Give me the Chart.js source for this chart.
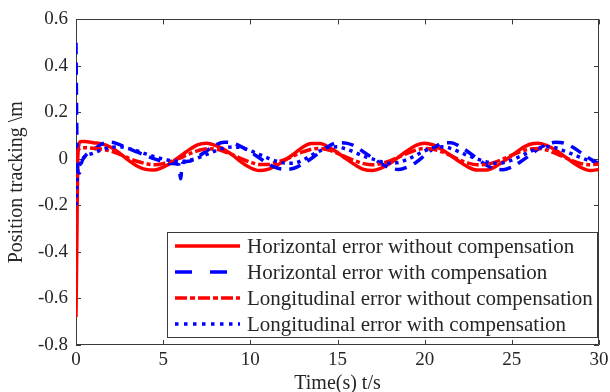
<!DOCTYPE html>
<html>
<head>
<meta charset="utf-8">
<title>Position tracking error</title>
<script src="https://cdn.jsdelivr.net/npm/chart.js@4.4.1/dist/chart.umd.min.js"></script>
<style>
  html, body { margin: 0; padding: 0; background: #fff; }
</style>
</head>
<body>
<canvas id="trackChart" width="610" height="392"></canvas>
<script>
(function() {
    'use strict';

    // Sample times (s); denser at the start transient and around the glitch near 6 s
    var tAxis = [
        0, 0.05, 0.1, 0.2, 0.3, 0.5,
        1, 1.5, 2, 2.5, 3, 3.5, 4, 4.5, 5, 5.5,
        5.9, 6, 6.1,
        6.5, 7, 7.5, 8, 8.5, 9, 9.5, 10, 10.5, 11,
        11.5, 12, 12.5, 13, 13.5, 14, 14.5, 15, 15.5, 16,
        16.5, 17, 17.5, 18, 18.5, 19, 19.5, 20, 20.5, 21,
        21.5, 22, 22.5, 23, 23.5, 24, 24.5, 25, 25.5, 26,
        26.5, 27, 27.5, 28, 28.5, 29, 29.5, 30
    ];

    // Horizontal error without compensation (m)
    var hNoComp = [
        -0.68, -0.35, 0.0, 0.07, 0.075, 0.075,
        0.07, 0.065, 0.05, 0.025, -0.005, -0.03, -0.045, -0.048, -0.035, -0.015,
        0.008, 0.013, 0.018,
        0.04, 0.062, 0.068, 0.058, 0.04, 0.015, -0.015, -0.038, -0.05, -0.045,
        -0.028, -0.005, 0.022, 0.05, 0.066, 0.066, 0.05, 0.028, 0.0, -0.025,
        -0.045, -0.05, -0.04, -0.02, 0.008, 0.035, 0.058, 0.068, 0.06, 0.04,
        0.015, -0.012, -0.035, -0.048, -0.048, -0.035, -0.012, 0.015, 0.042, 0.062,
        0.068, 0.058, 0.038, 0.012, -0.015, -0.038, -0.05, -0.045
    ];

    // Horizontal error with compensation (m)
    var hComp = [
        0.5, 0.1, -0.05, -0.06, -0.02, 0.01,
        0.04, 0.065, 0.072, 0.062, 0.045, 0.03, 0.015, 0.0, -0.012, -0.02,
        -0.025, -0.085, -0.02,
        -0.01, 0.01, 0.035, 0.06, 0.072, 0.068, 0.052, 0.03, 0.005, -0.02,
        -0.038, -0.045, -0.04, -0.022, 0.002, 0.03, 0.055, 0.07, 0.068, 0.055,
        0.03, 0.005, -0.02, -0.038, -0.045, -0.035, -0.015, 0.015, 0.045, 0.068,
        0.07, 0.055, 0.03, 0.002, -0.025, -0.042, -0.046, -0.035, -0.012, 0.015,
        0.042, 0.062, 0.072, 0.068, 0.05, 0.025, 0.0, -0.02
    ];

    // Longitudinal error without compensation (m)
    var lNoComp = [
        0.0, 0.02, 0.035, 0.045, 0.048, 0.048,
        0.046, 0.042, 0.034, 0.02, 0.004, -0.01, -0.02, -0.025, -0.02, -0.008,
        0.002, 0.005, 0.008,
        0.022, 0.036, 0.044, 0.042, 0.032, 0.018, 0.0, -0.014, -0.024, -0.024,
        -0.015, -0.002, 0.014, 0.03, 0.042, 0.045, 0.038, 0.024, 0.008, -0.008,
        -0.02, -0.025, -0.02, -0.008, 0.008, 0.024, 0.038, 0.045, 0.042, 0.03,
        0.014, -0.004, -0.018, -0.025, -0.024, -0.015, 0.0, 0.016, 0.032, 0.042,
        0.045, 0.038, 0.024, 0.008, -0.008, -0.02, -0.025, -0.022
    ];

    // Longitudinal error with compensation (m)
    var lComp = [
        -0.2, -0.12, -0.06, -0.03, -0.01, 0.01,
        0.025, 0.04, 0.05, 0.052, 0.045, 0.035, 0.022, 0.01, 0.0, -0.008,
        -0.01, -0.01, -0.01,
        -0.005, 0.005, 0.02, 0.035, 0.047, 0.052, 0.048, 0.035, 0.02, 0.004,
        -0.01, -0.018, -0.018, -0.005, 0.015, 0.035, 0.05, 0.052, 0.042, 0.028,
        0.012, 0.0, -0.012, -0.018, -0.015, -0.002, 0.016, 0.035, 0.048, 0.052,
        0.045, 0.03, 0.014, 0.0, -0.012, -0.018, -0.016, -0.005, 0.012, 0.03,
        0.045, 0.052, 0.048, 0.035, 0.02, 0.004, -0.008, -0.015
    ];

    var seriesNames = [
        'Horizontal error without compensation',
        'Horizontal error with compensation',
        'Longitudinal error without compensation',
        'Longitudinal error with compensation'
    ];

    var xTicks = [0, 5, 10, 15, 20, 25, 30];
    var yTicks = [-0.8, -0.6, -0.4, -0.2, 0, 0.2, 0.4, 0.6];

    var SERIF = '"Liberation Serif", "Times New Roman", serif';
    var TEXT = '#262626';
    var AXIS = '#3a3a3a';

    function toPoints(values) {
        return tAxis.map(function(t, i) { return { x: t, y: values[i] }; });
    }

    // Dash patterns: plot lines, and the (longer) legend samples
    var styles = [
        { color: '#ff0000', dash: [], legendDash: [] },
        { color: '#0000ff', dash: [12, 8], legendDash: [17, 18] },
        { color: '#ff0000', dash: [12, 3, 4, 3], legendDash: [12, 3, 5, 3] },
        { color: '#0000ff', dash: [3.5, 4.5], legendDash: [3.5, 5.5] }
    ];
    var seriesValues = [hNoComp, hComp, lNoComp, lComp];

    var datasets = seriesValues.map(function(vals, i) {
        return {
            label: seriesNames[i],
            data: toPoints(vals),
            borderColor: styles[i].color,
            borderDash: styles[i].dash,
            borderWidth: 3.5,
            order: 4 - i   // later series painted on top
        };
    });

    /**
     * Box around the axes with inward tick marks on all four sides.
     */
    var axesBox = {
        id: 'axesBox',
        beforeDatasetsDraw: function(chart) {
            var ctx = chart.ctx;
            var a = chart.chartArea;
            var xs = chart.scales.x, ys = chart.scales.y;
            var len = 5;
            ctx.save();
            ctx.strokeStyle = AXIS;
            ctx.lineWidth = 1;
            ctx.beginPath();
            ctx.rect(Math.round(a.left) + 0.5, Math.round(a.top) + 0.5,
                     Math.round(a.width) - 1, Math.round(a.height) - 1);
            xTicks.forEach(function(v) {
                var px = Math.round(xs.getPixelForValue(v)) + 0.5;
                ctx.moveTo(px, a.bottom); ctx.lineTo(px, a.bottom - len);
                ctx.moveTo(px, a.top); ctx.lineTo(px, a.top + len);
            });
            yTicks.forEach(function(v) {
                var py = Math.round(ys.getPixelForValue(v)) + 0.5;
                ctx.moveTo(a.left, py); ctx.lineTo(a.left + len, py);
                ctx.moveTo(a.right, py); ctx.lineTo(a.right - len, py);
            });
            ctx.stroke();
            ctx.restore();
        }
    };

    /**
     * Boxed legend in the lower right corner of the axes.
     */
    var boxLegend = {
        id: 'boxLegend',
        afterDraw: function(chart) {
            var ctx = chart.ctx;
            var left = 167, top = 232, width = 430, height = 105;
            var rowTop = 246, rowStep = 26;
            ctx.save();
            ctx.fillStyle = '#ffffff';
            ctx.fillRect(left, top, width, height);
            ctx.strokeStyle = AXIS;
            ctx.lineWidth = 1;
            ctx.strokeRect(left + 0.5, top + 0.5, width, height);

            ctx.font = '21px ' + SERIF;
            ctx.textBaseline = 'middle';
            ctx.fillStyle = TEXT;
            chart.data.datasets.forEach(function(ds, i) {
                var y = rowTop + i * rowStep;
                ctx.beginPath();
                ctx.strokeStyle = ds.borderColor;
                ctx.lineWidth = 3.5;
                ctx.setLineDash(styles[i].legendDash);
                ctx.moveTo(175, y);
                ctx.lineTo(240, y);
                ctx.stroke();
                ctx.setLineDash([]);
                ctx.fillText(ds.label, 247, y + 1);
            });
            ctx.restore();
        }
    };

    new Chart(document.getElementById('trackChart').getContext('2d'), {
        type: 'line',
        data: { datasets: datasets },
        options: {
            responsive: false,
            animation: false,
            layout: { padding: { top: 15, right: 11, bottom: 0, left: 0 } },
            plugins: { legend: { display: false }, tooltip: { enabled: false } },
            elements: {
                point: { radius: 0 },
                line: { cubicInterpolationMode: 'monotone', borderCapStyle: 'butt' }
            },
            scales: {
                x: {
                    type: 'linear',
                    min: 0,
                    max: 30,
                    grid: { display: false, drawTicks: false },
                    border: { display: false },
                    afterBuildTicks: function(s) {
                        s.ticks = xTicks.map(function(v) { return { value: v }; });
                    },
                    afterFit: function(s) {
                        s.height = 47;
                        // end labels may hang past the box; layout padding covers them
                        s.paddingLeft = 0;
                        s.paddingRight = 0;
                    },
                    ticks: {
                        color: TEXT,
                        font: { family: SERIF, size: 19 },
                        padding: 4,
                        maxRotation: 0,
                        autoSkip: false,
                        callback: function(v) { return String(v); }
                    },
                    title: {
                        display: true,
                        text: 'Time(s) t/s',
                        color: TEXT,
                        font: { family: SERIF, size: 20, lineHeight: 0.8 },
                        padding: { top: 0, bottom: 0 }
                    }
                },
                y: {
                    min: -0.8,
                    max: 0.6,
                    grid: { display: false, drawTicks: false },
                    border: { display: false },
                    afterBuildTicks: function(s) {
                        s.ticks = yTicks.map(function(v) { return { value: v }; });
                    },
                    afterFit: function(s) { s.width = 76; },
                    ticks: {
                        color: TEXT,
                        font: { family: SERIF, size: 19 },
                        padding: 8,
                        autoSkip: false,
                        callback: function(v) { return String(Math.round(v * 10) / 10); }
                    },
                    title: {
                        display: true,
                        text: 'Position tracking \\m',
                        color: TEXT,
                        font: { family: SERIF, size: 20, lineHeight: 1.2 },
                        padding: { top: 5, bottom: 0 }
                    }
                }
            }
        },
        plugins: [axesBox, boxLegend]
    });
})();
</script>
</body>
</html>
